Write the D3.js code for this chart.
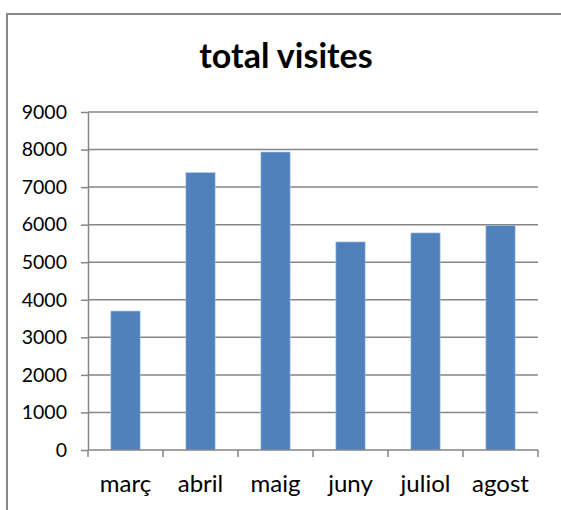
<!DOCTYPE html>
<html><head><meta charset="utf-8">
<script src="https://cdn.jsdelivr.net/npm/d3@7"></script>
<style>body{margin:0;background:#fff}svg{display:block}</style>
</head><body><svg id="c" width="561" height="510"></svg>
<script>
const categories = ["març","abril","maig","juny","juliol","agost"];
const values = [3700, 7385, 7935, 5540, 5780, 5980];
const yTicks = [0,1000,2000,3000,4000,5000,6000,7000,8000,9000];
const title = "total visites";

const svg = d3.select("#c");
const L = 88, R = 538, T = 112, B = 450;
const font = "Lato, 'Open Sans', sans-serif";

svg.append("path").attr("d", "M7,510 V14 H561").attr("fill","none").attr("stroke","#878787").attr("stroke-width",2);

svg.append("text").attr("x", 286).attr("y", 68).attr("text-anchor","middle")
  .attr("font-family", font).attr("font-weight","bold").attr("font-size", 34).attr("fill","#000").text(title);

const x = d3.scaleBand().domain(categories).range([L, R]).paddingInner(0.61).paddingOuter(0.305);
const y = d3.scaleLinear().domain([0, 9000]).range([B, T]);

svg.append("g").selectAll("line").data(yTicks.filter(d=>d>0)).join("line")
  .attr("x1", L).attr("x2", R).attr("y1", d=>y(d)).attr("y2", d=>y(d))
  .attr("stroke","#868686").attr("stroke-width",1.5);

svg.append("g").selectAll("rect").data(values).join("rect")
  .attr("x", (d,i)=>x(categories[i])).attr("width", x.bandwidth())
  .attr("y", d=>y(d)).attr("height", d=>B - y(d))
  .attr("fill","#4f81bd").attr("stroke","#a9c4e6").attr("stroke-width",0.6);

const ya = svg.append("g").attr("transform", `translate(${L},0)`)
  .call(d3.axisLeft(y).tickValues(yTicks).tickSize(7).tickSizeOuter(0).tickPadding(14).tickFormat(d3.format("d")));
ya.select(".domain").attr("stroke","#868686").attr("stroke-width",1.5);
ya.selectAll(".tick line").attr("stroke","#868686").attr("stroke-width",1.5);
ya.selectAll("text").attr("font-family", font).attr("font-size", 19.5).attr("fill","#000");

const xa = svg.append("g").attr("transform", `translate(0,${B})`)
  .call(d3.axisBottom(x).tickSize(0).tickPadding(25));
xa.select(".domain").attr("stroke","#868686").attr("stroke-width",1.5).attr("d", `M${L},0H${R}`);
xa.selectAll("text").attr("font-family", font).attr("font-size", 24).attr("fill","#000");
const bounds = d3.range(categories.length + 1).map(i => L + i * (R - L) / categories.length);
svg.append("g").selectAll("line").data(bounds).join("line")
  .attr("x1", d=>d).attr("x2", d=>d).attr("y1", B).attr("y2", B + 7)
  .attr("stroke","#868686").attr("stroke-width",1.5);
</script></body></html>
